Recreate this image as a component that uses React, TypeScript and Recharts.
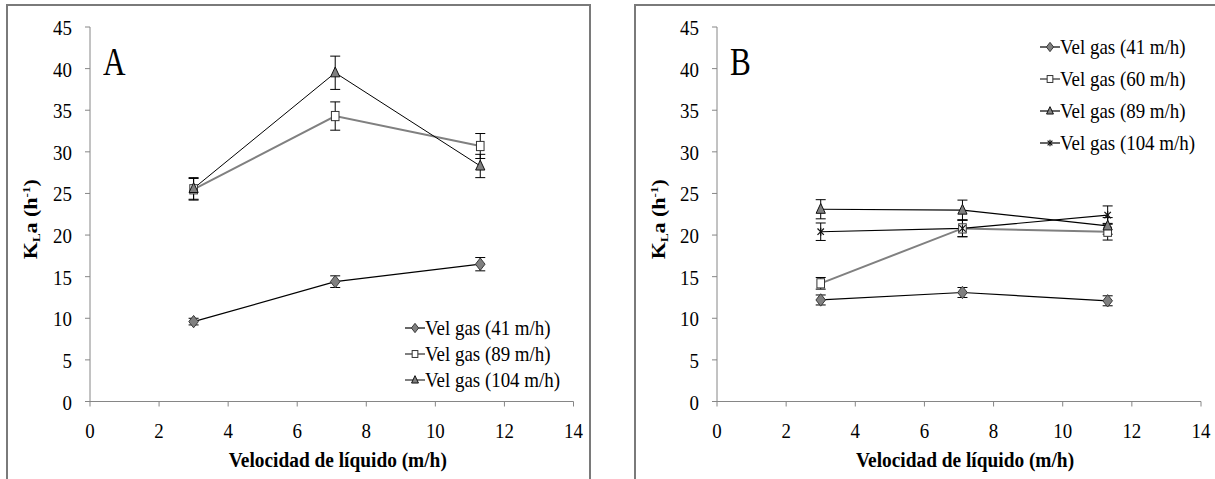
import { LineChart, Line, XAxis, YAxis, ErrorBar, Legend } from "recharts";

// liquid velocity (m/h) where KLa was measured
const liquidVelocity = [3, 7.1, 11.3];
const xTicks = [0, 2, 4, 6, 8, 10, 12, 14];
const yTicks = [0, 5, 10, 15, 20, 25, 30, 35, 40, 45];

// panel A
const a41 = [9.6, 14.4, 16.5];
const a41Err = [0.4, 0.7, 0.8];
const a89 = [25.5, 34.3, 30.7];
const a89Err = [1.3, 1.7, 1.5];
const a104 = [25.6, 39.5, 28.3];
const a104Err = [1.3, 2.0, 1.4];

// panel B
const b41 = [12.2, 13.1, 12.1];
const b41Err = [0.6, 0.6, 0.6];
const b60 = [14.2, 20.8, 20.4];
const b60Err = [0.7, 1.0, 1.0];
const b89 = [23.1, 23.0, 21.1];
const b89Err = [1.15, 1.2, 1.0];
const b104 = [20.4, 20.8, 22.4];
const b104Err = [1.05, 1.0, 1.1];

const FONT = "'Liberation Serif', 'DejaVu Serif', 'Noto Serif', serif";
const SQUISH = 0.86;
const AXIS_GRAY = "#868686";

type Marker = "diamond" | "square" | "triangle" | "star";

interface Series {
  key: string;
  name: string;
  values: number[];
  errors: number[];
  marker: Marker;
  color: string;
  width: number;
}

const seriesA: Series[] = [
  { key: "g41", name: "Vel gas (41 m/h)", values: a41, errors: a41Err, marker: "diamond", color: "#000", width: 1.2 },
  { key: "g89", name: "Vel gas (89 m/h)", values: a89, errors: a89Err, marker: "square", color: "#808080", width: 2 },
  { key: "g104", name: "Vel gas (104 m/h)", values: a104, errors: a104Err, marker: "triangle", color: "#000", width: 1 },
];

const seriesB: Series[] = [
  { key: "g41", name: "Vel gas (41 m/h)", values: b41, errors: b41Err, marker: "diamond", color: "#000", width: 1.2 },
  { key: "g60", name: "Vel gas (60 m/h)", values: b60, errors: b60Err, marker: "square", color: "#808080", width: 2 },
  { key: "g89", name: "Vel gas (89 m/h)", values: b89, errors: b89Err, marker: "triangle", color: "#000", width: 1.2 },
  { key: "g104", name: "Vel gas (104 m/h)", values: b104, errors: b104Err, marker: "star", color: "#000", width: 1.2 },
];

function buildRows(series: Series[]) {
  return liquidVelocity.map((x, i) => {
    const row: Record<string, number> = { x };
    series.forEach((s) => {
      row[s.key] = s.values[i];
      row[s.key + "Err"] = s.errors[i];
    });
    return row;
  });
}

function MarkerShape({ cx, cy, marker, small }: { cx: number; cy: number; marker: Marker; small?: boolean }) {
  const k = small ? 0.75 : 1;
  if (marker === "diamond") {
    const h = 6.2 * k, w = 4.8 * k;
    return (
      <polygon
        points={`${cx},${cy - h} ${cx + w},${cy} ${cx},${cy + h} ${cx - w},${cy}`}
        fill="#808080"
        stroke="#3a3a3a"
        strokeWidth={1}
      />
    );
  }
  if (marker === "square") {
    const h = 4.6 * k, w = 3.8 * k;
    return <rect x={cx - w} y={cy - h} width={2 * w} height={2 * h} fill="#fff" stroke="#333" strokeWidth={1} />;
  }
  if (marker === "triangle") {
    const h = 5.8 * k, w = 4.6 * k;
    return (
      <polygon
        points={`${cx},${cy - h} ${cx + w},${cy + h * 0.7} ${cx - w},${cy + h * 0.7}`}
        fill="#808080"
        stroke="#111"
        strokeWidth={1}
      />
    );
  }
  const r = 3.2 * k;
  return (
    <g stroke="#111" strokeWidth={1.2}>
      <line x1={cx - r} y1={cy - r} x2={cx + r} y2={cy + r} />
      <line x1={cx - r} y1={cy + r} x2={cx + r} y2={cy - r} />
      <line x1={cx} y1={cy - r - 0.8} x2={cx} y2={cy + r + 0.8} />
    </g>
  );
}

function TickY({ x, y, payload }: any) {
  return (
    <g transform={`translate(${x},${y})`}>
      <text transform={`scale(${SQUISH},1)`} textAnchor="end" dy={8} fontFamily={FONT} fontSize={22} fill="#000">
        {payload.value}
      </text>
    </g>
  );
}

function TickX({ x, y, payload }: any) {
  return (
    <g transform={`translate(${x},${y})`}>
      <text transform={`scale(${SQUISH},1)`} textAnchor="middle" dy={32} fontFamily={FONT} fontSize={22} fill="#000">
        {payload.value}
      </text>
    </g>
  );
}

function TitleX({ viewBox }: any) {
  const cx = viewBox.x + viewBox.width / 2 + 6;
  const cy = viewBox.y + 65.5;
  return (
    <g transform={`translate(${cx},${cy})`}>
      <text transform={`scale(${SQUISH + 0.02},1)`} textAnchor="middle" fontFamily={FONT} fontWeight="bold" fontSize={22} fill="#000">
        Velocidad de líquido (m/h)
      </text>
    </g>
  );
}

function TitleY({ viewBox }: any) {
  const cx = viewBox.x + 29;
  const cy = viewBox.y + viewBox.height / 2 + 5;
  return (
    <g transform={`translate(${cx},${cy}) scale(${SQUISH},1) rotate(-90)`}>
      <text textAnchor="middle" fontFamily={FONT} fontWeight="bold" fontSize={22} fill="#000">
        K<tspan fontSize={13} dy={4}>L</tspan>
        <tspan dy={-4}>a (h</tspan>
        <tspan fontSize={13} dy={-8}>-1</tspan>
        <tspan dy={8}>)</tspan>
      </text>
    </g>
  );
}

function LegendBox({ series, rowH }: { series: Series[]; rowH: number }) {
  return (
    <div style={{ fontFamily: FONT, fontSize: 22, color: "#000" }}>
      {series.map((s) => (
        <div key={s.key} style={{ height: rowH, display: "flex", alignItems: "center", whiteSpace: "nowrap" }}>
          <svg width={20} height={rowH} style={{ flex: "none" }}>
            <line x1={0} y1={rowH / 2} x2={20} y2={rowH / 2} stroke={s.color} strokeWidth={s.width} />
            <MarkerShape cx={10} cy={rowH / 2} marker={s.marker} small />
          </svg>
          <span style={{ display: "inline-block", transform: `scaleX(${SQUISH})`, transformOrigin: "left center", lineHeight: `${rowH}px` }}>
            {s.name}
          </span>
        </div>
      ))}
    </div>
  );
}

interface PanelProps {
  letter: string;
  series: Series[];
  left: number;
  frameWidth: number;
  chartWidth: number;
  yAxisWidth: number;
  marginRight: number;
  legendLeft: number;
  legendTop: number;
  rowH: number;
}

function Panel(p: PanelProps) {
  const rows = buildRows(p.series);
  return (
    <div
      style={{
        position: "absolute",
        left: p.left,
        top: 4,
        width: p.frameWidth,
        height: 500,
        border: "2px solid #7a7a7a",
        boxSizing: "border-box",
        background: "#fff",
      }}
    >
      <LineChart width={p.chartWidth} height={480} data={rows} margin={{ top: 21, right: p.marginRight, left: 0, bottom: 34.5 }}>
        <XAxis
          dataKey="x"
          type="number"
          domain={[0, 14]}
          ticks={xTicks}
          stroke={AXIS_GRAY}
          tickSize={5}
          tickMargin={0}
          tick={<TickX />}
          height={50}
          label={<TitleX />}
        />
        <XAxis xAxisId="top" type="number" orientation="top" domain={[0, 14]} height={0} tick={false} tickLine={false} stroke="#000" />
        <YAxis
          type="number"
          domain={[0, 45]}
          ticks={yTicks}
          stroke={AXIS_GRAY}
          tickSize={5}
          tickMargin={13}
          tick={<TickY />}
          width={p.yAxisWidth}
          label={<TitleY />}
        />
        <YAxis yAxisId="right" orientation="right" domain={[0, 45]} width={0} tick={false} tickLine={false} stroke={AXIS_GRAY} />
        <Legend
          layout="vertical"
          align="center"
          verticalAlign="middle"
          wrapperStyle={{ left: p.legendLeft, top: p.legendTop, width: "auto", height: "auto" }}
          content={() => <LegendBox series={p.series} rowH={p.rowH} />}
        />
        {p.series.map((s) => (
          <Line
            key={s.key}
            dataKey={s.key}
            name={s.name}
            type="linear"
            stroke={s.color}
            strokeWidth={s.width}
            isAnimationActive={false}
            activeDot={false}
            dot={(d: any) => <MarkerShape key={`${s.key}-${d.index}`} cx={d.cx} cy={d.cy} marker={s.marker} />}
          >
            <ErrorBar dataKey={s.key + "Err"} direction="y" width={5} stroke="#000" strokeWidth={1} />
          </Line>
        ))}
      </LineChart>
      <div
        style={{
          position: "absolute",
          left: p.yAxisWidth + 13,
          top: 35.5,
          fontFamily: FONT,
          fontSize: 40,
          lineHeight: "40px",
          transform: "scaleX(0.78)",
          transformOrigin: "left top",
        }}
      >
        {p.letter}
      </div>
    </div>
  );
}

export default function App() {
  return (
    <div style={{ position: "absolute", left: 0, top: 0, width: 1215, height: 479, overflow: "hidden", background: "#fff" }}>
      <Panel
        letter="A"
        series={seriesA}
        left={6}
        frameWidth={585}
        chartWidth={581}
        yAxisWidth={82}
        marginRight={15.5}
        legendLeft={397}
        legendTop={309}
        rowH={26}
      />
      <Panel
        letter="B"
        series={seriesB}
        left={634}
        frameWidth={600}
        chartWidth={576}
        yAxisWidth={81}
        marginRight={11}
        legendLeft={404}
        legendTop={25}
        rowH={32}
      />
    </div>
  );
}
